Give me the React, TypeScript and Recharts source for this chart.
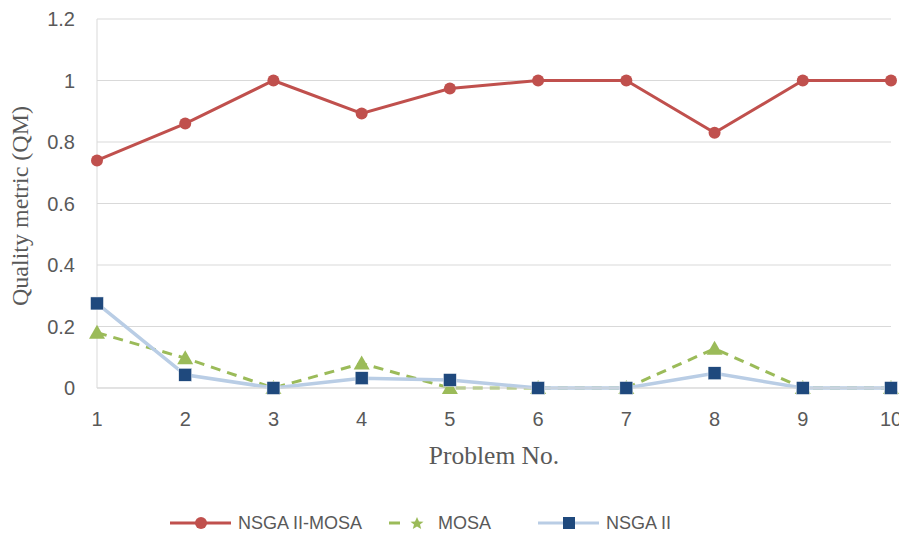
import { LineChart, Line, XAxis, YAxis, CartesianGrid, Label } from "recharts"

const problems = ["1", "2", "3", "4", "5", "6", "7", "8", "9", "10"]
const hybrid = [0.74, 0.86, 1, 0.893, 0.974, 1, 1, 0.83, 1, 1]
const mosa = [0.18, 0.097, 0, 0.08, 0, 0, 0, 0.128, 0, 0]
const nsga = [0.275, 0.043, 0, 0.032, 0.026, 0, 0, 0.048, 0, 0]
const yTicks = [0, 0.2, 0.4, 0.6, 0.8, 1, 1.2]

const RED = "#C0504D"
const GREEN = "#9BBB59"
const LIGHT = "#B9CDE5"
const NAVY = "#1F497D"
const TEXT = "#595959"
const SANS = "'Liberation Sans', Arial, sans-serif"
const SERIF = "'Liberation Serif', 'Times New Roman', serif"

const data = problems.map((p, i) => ({
  problem: p,
  hybrid: hybrid[i],
  mosa: mosa[i],
  nsga: nsga[i],
}))

function TriangleDot(props: any) {
  const { cx, cy } = props
  if (cx == null || cy == null) return null
  return <polygon points={`${cx},${cy - 8} ${cx + 8},${cy + 6} ${cx - 8},${cy + 6}`} fill={GREEN} />
}

function SquareDot(props: any) {
  const { cx, cy } = props
  if (cx == null || cy == null) return null
  return <rect x={cx - 6.5} y={cy - 6.5} width={13} height={13} fill={NAVY} stroke="#ffffff" strokeWidth={0.5} />
}

function XTick(props: any) {
  const { x, y, payload } = props
  return (
    <text x={x} y={y + 13} textAnchor="middle" fontFamily={SANS} fontSize={20} fill={TEXT}>
      {payload.value}
    </text>
  )
}

function YTick(props: any) {
  const { x, y, payload } = props
  return (
    <text x={x} y={y + 7} textAnchor="end" fontFamily={SANS} fontSize={20} fill={TEXT}>
      {payload.value}
    </text>
  )
}

function LegendItem({ left, kind, label }: { left: number; kind: string; label: string }) {
  return (
    <div style={{ position: "absolute", left, top: 506, display: "flex", alignItems: "center", height: 18 }}>
      <svg width={62} height={18} style={{ marginRight: 6 }}>
        {kind === "circle" && (
          <>
            <line x1={0} y1={9} x2={61} y2={9} stroke={RED} strokeWidth={3} />
            <circle cx={31} cy={9} r={6} fill={RED} />
          </>
        )}
        {kind === "star" && (
          <>
            <line x1={19} y1={9} x2={30} y2={9} stroke={GREEN} strokeWidth={3} />
            <polygon
              points="47,3 49,7.5 53.5,7.7 50,10.6 51.2,15 47,12.5 42.8,15 44,10.6 40.5,7.7 45,7.5"
              fill={GREEN}
            />
            <line x1={68} y1={9} x2={79} y2={9} stroke={GREEN} strokeWidth={3} />
          </>
        )}
        {kind === "square" && (
          <>
            <line x1={0} y1={9} x2={61} y2={9} stroke={LIGHT} strokeWidth={3} />
            <rect x={25} y={3} width={12} height={12} fill={NAVY} />
          </>
        )}
      </svg>
      <span style={{ fontFamily: SANS, fontSize: 18, lineHeight: "18px", color: TEXT, whiteSpace: "nowrap" }}>
        {label}
      </span>
    </div>
  )
}

export default function App() {
  return (
    <div style={{ position: "relative", width: 899, height: 524, background: "#fff" }}>
      <LineChart width={899} height={524} data={data} margin={{ top: 11, right: 16, left: 29, bottom: 64 }}>
        <CartesianGrid vertical={false} stroke="#D9D9D9" strokeWidth={1} />
        <XAxis
          dataKey="problem"
          height={80}
          stroke="#D9D9D9"
          interval={0}
          tickLine={false}
          tickSize={6}
          tickMargin={19}
          tick={<XTick />}
        >
          <Label
            content={() => (
              <text x={486} y={456} textAnchor="middle" fontFamily={SERIF} fontSize={25.5} fill={TEXT}>
                Problem No.
              </text>
            )}
          />
        </XAxis>
        <YAxis
          width={60}
          domain={[0, 1.2]}
          ticks={yTicks}
          stroke="#D9D9D9"
          tickLine={false}
          tickSize={6}
          tickMargin={16}
          tick={<YTick />}
        >
          <Label
            content={() => (
              <text
                x={20}
                y={198}
                transform="rotate(-90 20 198)"
                textAnchor="middle"
                fontFamily={SERIF}
                fontSize={24}
                fill={TEXT}
              >
                Quality metric (QM)
              </text>
            )}
          />
        </YAxis>
        <Line
          dataKey="hybrid"
          stroke={RED}
          strokeWidth={3}
          dot={{ r: 6, fill: RED, stroke: RED, strokeWidth: 0 }}
          isAnimationActive={false}
        />
        <Line
          dataKey="mosa"
          stroke={GREEN}
          strokeWidth={3}
          strokeDasharray="10 7"
          dot={<TriangleDot />}
          isAnimationActive={false}
        />
        <Line dataKey="nsga" stroke={LIGHT} strokeWidth={3.5} dot={<SquareDot />} isAnimationActive={false} />
      </LineChart>
      <LegendItem left={162} kind="circle" label="NSGA II-MOSA" />
      <LegendItem left={362} kind="star" label="MOSA" />
      <LegendItem left={530} kind="square" label="NSGA II" />
    </div>
  )
}
